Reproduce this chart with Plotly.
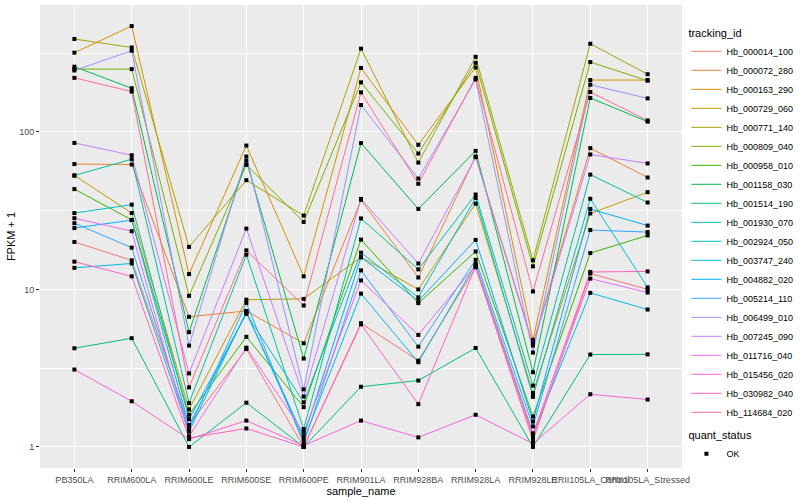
import math
import plotly.graph_objects as go

samples = ["PB350LA", "RRIM600LA", "RRIM600LE", "RRIM600SE", "RRIM600PE", "RRIM901LA",
           "RRIM928BA", "RRIM928LA", "RRIM928LE", "RRII105LA_Control", "RRII105LA_Stressed"]

tracking_ids = ["Hb_000014_100", "Hb_000072_280", "Hb_000163_290", "Hb_000729_060", "Hb_000771_140",
                "Hb_000809_040", "Hb_000958_010", "Hb_001158_030", "Hb_001514_190", "Hb_001930_070",
                "Hb_002924_050", "Hb_003747_240", "Hb_004882_020", "Hb_005214_110", "Hb_006499_010",
                "Hb_007245_090", "Hb_011716_040", "Hb_015456_020", "Hb_030982_040", "Hb_114684_020"]

hb_000014_100 = [20, 15.3, 1.38, 4.18, 1.0, 6.1, 3.53, 13.8, 1.1, 12.6, 10.0]
hb_000072_280 = [62.4, 62, 6.7, 7.3, 4.55, 37, 11.9, 69.7, 4.5, 78.8, 51.3]
hb_000163_290 = [318, 469, 12.5, 81.8, 12.1, 254, 82.7, 256, 4.78, 213, 213]
hb_000729_060 = [52.8, 30.5, 1.73, 8.6, 8.7, 16, 10, 35, 2.2, 30.3, 41.4]
hb_000771_140 = [388, 343, 18.6, 49.3, 29.4, 337, 63.8, 299, 15.3, 362, 232]
hb_000809_040 = [250, 250, 9.1, 61.7, 26.8, 206, 72.8, 274, 14, 277, 211]
hb_000958_010 = [43.3, 27.6, 1.6, 5.0, 1.79, 20.7, 8.18, 17.4, 1.56, 17, 22]
hb_001158_030 = [259, 189, 5.35, 65.5, 3.64, 84.8, 32.4, 75.7, 2.98, 164, 116]
hb_001514_190 = [4.23, 4.9, 1.0, 1.91, 1.0, 2.41, 2.64, 4.25, 1.0, 3.86, 3.87]
hb_001930_070 = [52.8, 67, 1.9, 16.6, 1.3, 28.2, 13.4, 40, 2.45, 53.5, 35.6]
hb_002924_050 = [30.5, 34.5, 1.5, 7.0, 1.92, 17.1, 8.9, 38, 2.08, 37.6, 10.3]
hb_003747_240 = [13.7, 14.6, 1.25, 7.2, 1.1, 9.4, 3.45, 14.5, 1.22, 9.5, 7.45]
hb_004882_020 = [24.5, 27.5, 1.37, 7.1, 1.16, 16, 8.45, 20.6, 1.45, 32.4, 25.4]
hb_005214_110 = [26.3, 18.4, 1.3, 8.2, 1.05, 13.2, 4.33, 15.4, 1.35, 23.8, 23.1]
hb_006499_010 = [245, 327, 4.4, 69.7, 2.32, 148, 50.5, 215, 3.97, 199, 163]
hb_007245_090 = [85, 71, 2.93, 24.3, 2.09, 37.5, 14.6, 69, 4.4, 71.8, 63]
hb_011716_040 = [28.3, 23.4, 1.17, 4.27, 1.23, 11.4, 5.14, 14.2, 1.15, 11.7, 9.55]
hb_015456_020 = [3.1, 1.95, 1.12, 1.47, 1.02, 1.47, 1.15, 1.6, 1.05, 2.16, 2.0]
hb_030982_040 = [15, 12.1, 1.14, 1.31, 1.0, 6.0, 1.87, 14, 1.2, 12.9, 13]
hb_114684_020 = [220, 180, 2.39, 17.7, 7.9, 178, 46.8, 220, 9.7, 179, 118]

series = [hb_000014_100, hb_000072_280, hb_000163_290, hb_000729_060, hb_000771_140,
          hb_000809_040, hb_000958_010, hb_001158_030, hb_001514_190, hb_001930_070,
          hb_002924_050, hb_003747_240, hb_004882_020, hb_005214_110, hb_006499_010,
          hb_007245_090, hb_011716_040, hb_015456_020, hb_030982_040, hb_114684_020]

colors = ["#F8766D", "#EA8331", "#D89000", "#C09B00", "#A3A500", "#7CAE00", "#39B600", "#00BB4E",
          "#00BF7D", "#00C1A3", "#00BFC4", "#00BAE0", "#00B0F6", "#35A2FF", "#9590FF", "#C77CFF",
          "#E76BF3", "#FA62DB", "#FF62BC", "#FF6C91"]

quant_status = "OK"

FONT = "Liberation Sans, Arial, sans-serif"
fig = go.Figure()

for name, vals, col in zip(tracking_ids, series, colors):
    fig.add_trace(go.Scatter(x=samples, y=vals, mode="lines", name=name,
                             line=dict(color=col, width=1), legend="legend"))

all_x = [s for vals in series for s in samples]
all_y = [v for vals in series for v in vals]
fig.add_trace(go.Scatter(x=all_x, y=all_y, mode="markers", name=quant_status,
                         marker=dict(color="black", symbol="square", size=4),
                         legend="legend2"))

lo = math.log10(min(all_y))
hi = math.log10(max(all_y))
pad = (hi - lo) * 0.05

fig.update_layout(
    width=800, height=500,
    margin=dict(l=40, r=118, t=5, b=32),
    paper_bgcolor="white", plot_bgcolor="#EBEBEB",
    font=dict(family=FONT, color="black"),
    xaxis=dict(type="category", categoryorder="array", categoryarray=samples,
               range=[-0.6, len(samples) - 0.4], showgrid=True, gridcolor="white", gridwidth=1.1,
               zeroline=False, ticks="outside", ticklen=3, tickcolor="#333333", tickangle=0,
               tickfont=dict(size=9, color="#4D4D4D", family=FONT),
               title=dict(text="sample_name", font=dict(size=11, color="black"), standoff=1),
               automargin=False, showline=False),
    yaxis=dict(type="log", range=[lo - pad, hi + pad], tickvals=[1, 10, 100], ticktext=["1", "10", "100"],
               showgrid=True, gridcolor="white", gridwidth=1.1, zeroline=False,
               ticks="outside", ticklen=3, tickcolor="#333333",
               tickfont=dict(size=9, color="#4D4D4D", family=FONT),
               minor=dict(tickvals=[10 ** 0.5, 10 ** 1.5, 10 ** 2.5], showgrid=True,
                          gridcolor="white", gridwidth=0.5, ticklen=0),
               title=dict(text="FPKM + 1", font=dict(size=11, color="black"), standoff=1),
               automargin=False),
    legend=dict(title=dict(text="tracking_id", font=dict(size=11)), font=dict(size=9, family=FONT),
                xref="container", yref="container", x=0.858, y=0.955, xanchor="left", yanchor="top",
                bgcolor="rgba(0,0,0,0)", tracegroupgap=0, itemwidth=30),
    legend2=dict(title=dict(text="quant_status", font=dict(size=11)), font=dict(size=9, family=FONT),
                 xref="container", yref="container", x=0.858, y=0.15, xanchor="left", yanchor="top",
                 bgcolor="rgba(0,0,0,0)", itemwidth=30),
    showlegend=True,
)
try:
    fig.update_layout(legend_maxheight=1, legend2_maxheight=1)
except Exception:
    pass

fig.write_html("out.html", config={"displayModeBar": False},
               post_script="document.body.style.margin='0px';")
